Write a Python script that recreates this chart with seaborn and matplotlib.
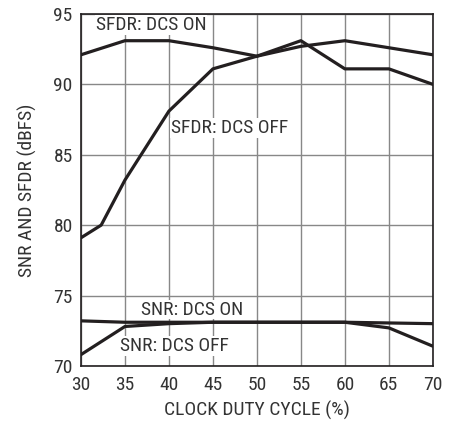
import pandas as pd
import numpy as np
import matplotlib
matplotlib.use("Agg")
import matplotlib.pyplot as plt
import seaborn as sns

# data
duty = [30, 35, 40, 45, 50, 55, 60, 65, 70]
sfdr_on = [92.1, 93.1, 93.1, 92.6, 92.0, 92.7, 93.1, 92.6, 92.1]
duty_off = [30, 32.3, 35, 40, 45, 50, 55, 60, 65, 70]
sfdr_off = [79.1, 80.0, 83.2, 88.1, 91.1, 92.0, 93.1, 91.1, 91.1, 90.0]
snr_on = [73.2, 73.1, 73.1, 73.1, 73.1, 73.1, 73.1, 73.05, 73.0]
snr_off = [70.8, 72.8, 73.0, 73.1, 73.1, 73.1, 73.1, 72.7, 71.4]

sns.set_style("white")
plt.rcParams['font.family'] = ['Liberation Sans Narrow', 'DejaVu Sans Condensed',
                               'Roboto Condensed', 'Liberation Sans', 'DejaVu Sans']

fig = plt.figure(figsize=(4.6, 4.23), dpi=100)
ax = fig.add_axes([0.176, 0.135, 0.765, 0.832])

ink = "#231f20"
txt = "#333333"
for xs, ys in [(duty, sfdr_on), (duty_off, sfdr_off), (duty, snr_on), (duty, snr_off)]:
    df = pd.DataFrame({"x": xs, "y": ys})
    sns.lineplot(data=df, x="x", y="y", ax=ax, color=ink, linewidth=2.3, zorder=3)

ax.set_xlim(30, 70)
ax.set_ylim(70, 95)
ax.set_xticks(np.arange(30, 71, 5))
ax.set_yticks(np.arange(70, 96, 5))
ax.grid(True, color="#888888", linewidth=1.0, zorder=0)
ax.set_axisbelow(True)
for s in ax.spines.values():
    s.set_color(ink)
    s.set_linewidth(1.2)
ax.tick_params(length=0, labelsize=14, colors=txt)
ax.tick_params(axis="x", pad=7)
ax.tick_params(axis="y", pad=6)
ax.set_xlabel("CLOCK DUTY CYCLE (%)", fontsize=14, color=txt, labelpad=5)
ax.set_ylabel("SNR AND SFDR (dBFS)", fontsize=14, color=txt, labelpad=12)

box = dict(facecolor="white", edgecolor="none", pad=0.5)
ax.text(31.7, 94.2, "SFDR: DCS ON", fontsize=14, color=txt, va="center", ha="left", bbox=box, zorder=4)
ax.text(40.2, 86.9, "SFDR: DCS OFF", fontsize=14, color=txt, va="center", ha="left", bbox=box, zorder=4)
ax.text(36.8, 74.0, "SNR: DCS ON", fontsize=14, color=txt, va="center", ha="left", bbox=box, zorder=4)
ax.text(34.4, 71.4, "SNR: DCS OFF", fontsize=14, color=txt, va="center", ha="left", bbox=box, zorder=4)

fig.savefig("out.png", dpi=100)
